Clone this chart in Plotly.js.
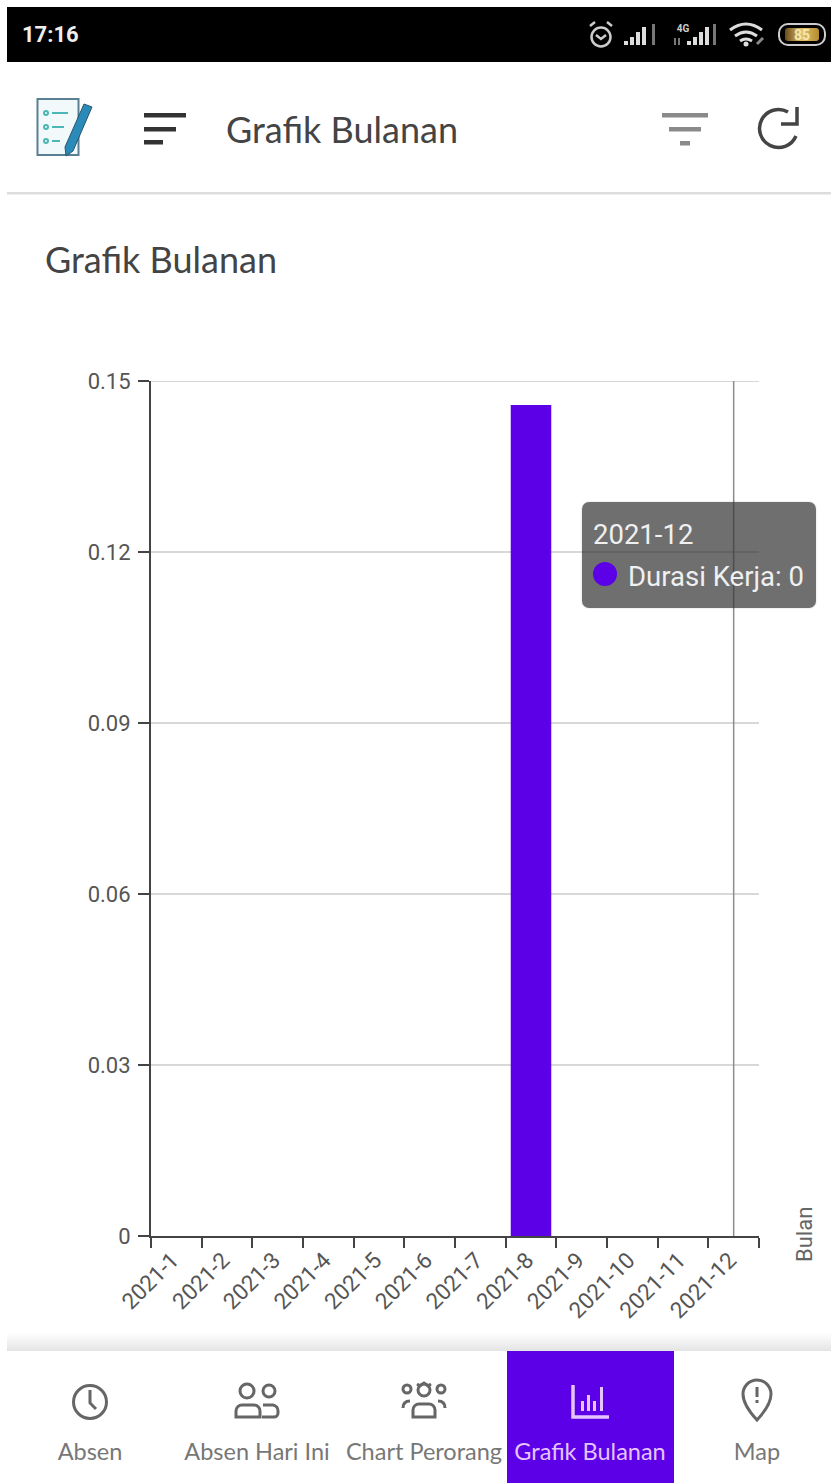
<!DOCTYPE html>
<html><head><meta charset="utf-8">
<script src="https://cdn.plot.ly/plotly-3.0.1.min.js"></script>
<style>
html,body{margin:0;padding:0;background:#fff;width:831px;height:1483px;overflow:hidden;font-family:Lato,sans-serif}
#chart{position:absolute;left:0;top:0;width:831px;height:1483px}
.a{position:absolute;white-space:nowrap}
svg.a{overflow:visible}
.nav{position:absolute;top:1451px;transform:translate(-50%,-50%);font-size:23.500px;color:#777;white-space:nowrap}
</style></head><body>
<div id="chart"></div>

<div class="a" style="left:7px;top:7px;width:824px;height:55px;background:#000"></div>
<div class="a" style="left:22px;top:34px;transform:translateY(-50%);font:bold 22px Roboto;color:#eee">17:16</div>
<svg class="a" style="left:0;top:0" width="831" height="70">
 <defs><linearGradient id="bat"><stop offset="0" stop-color="#6b4a1a"/><stop offset="0.5" stop-color="#e2c36a"/><stop offset="1" stop-color="#b58a30"/></linearGradient></defs>
 <g fill="none" stroke="#ccc" stroke-width="2.500">
  <circle cx="601" cy="37" r="9.500"/><path d="M596 35l5 4 5-4M590 26l5-4M612 26l-5-4"/>
 </g>
 <g fill="#ddd">
  <rect x="624" y="41" width="4" height="4"/><rect x="630" y="37" width="4" height="8"/><rect x="636" y="32" width="4" height="13"/><rect x="642" y="27" width="4" height="18"/>
  <rect x="652" y="24" width="3" height="21" fill="#777"/>
  <rect x="687" y="41" width="4" height="4"/><rect x="693" y="37" width="4" height="8"/><rect x="699" y="32" width="4" height="13"/><rect x="705" y="27" width="4" height="18"/>
  <rect x="713" y="24" width="3" height="21" fill="#777"/>
  <rect x="674" y="38" width="2" height="7" fill="#777"/><rect x="678" y="38" width="2" height="7" fill="#777"/>
 </g>
 <text x="683" y="32" text-anchor="middle" font-family="Roboto" font-weight="bold" font-size="10" fill="#ccc">4G</text>
 <g fill="none" stroke="#ddd" stroke-width="3">
  <path d="M730 30q16-12 32 0M735 36q11-8 22 0M740 41q6-4 12 0"/>
 </g>
 <circle cx="746" cy="44" r="2.500" fill="#ddd"/>
 <path d="M757 44l6-6" stroke="#888" stroke-width="3"/>
 <rect x="779" y="24" width="46" height="21" rx="9" fill="#000" stroke="#ccc" stroke-width="2"/>
 <rect x="785" y="28" width="34" height="13" rx="3" fill="url(#bat)"/>
 <text x="802" y="40" text-anchor="middle" font-family="Roboto" font-weight="bold" font-size="14" fill="#f6e6b0">85</text>
</svg>

<svg class="a" style="left:0;top:90px" width="831" height="110">
 <rect x="37.500" y="9" width="41" height="56" fill="#f2f9fb" stroke="#5a7f92" stroke-width="2"/>
 <g fill="none" stroke="#4cb7b5" stroke-width="2">
  <circle cx="46" cy="23" r="2"/><circle cx="46" cy="37" r="2"/><circle cx="46" cy="51" r="2"/>
  <path d="M52 23h16M52 37h12M52 51h8"/>
 </g>
 <path d="M84 14l8 3-19 44-7 5-1-9z" fill="#2a8ab8" stroke="#27566e" stroke-width="1"/>
 <g fill="#333">
  <rect x="144" y="23" width="42" height="4.500"/><rect x="144" y="37" width="32" height="4.500"/><rect x="144" y="50" width="19" height="4.500"/>
 </g>
 <g fill="#8a8a8a">
  <rect x="662" y="23" width="46" height="4.500"/><rect x="669" y="37" width="32" height="4.500"/><rect x="680" y="51" width="10" height="4.500"/>
 </g>
 <path d="M788 22a19 19 0 1 0 8 24" fill="none" stroke="#444" stroke-width="3.500"/>
 <path d="M797 17v17h-16" fill="none" stroke="#444" stroke-width="3.500"/>
 <rect x="7" y="102" width="824" height="2.500" fill="#ddd"/>
</svg>
<div class="a" style="left:226px;top:129px;transform:translateY(-50%);font-size:36px;color:#444">Grafik Bulanan</div>

<div class="a" style="left:582px;top:502px;width:234px;height:106px;border-radius:7px;background:rgba(50,50,50,.7);box-shadow:0 0 2px rgba(0,0,0,.2)"></div>
<div class="a" style="left:593px;top:534px;transform:translateY(-50%);font:27.500px Roboto;color:#f0f0f0">2021-12</div>
<div class="a" style="left:593px;top:562px;width:24px;height:24px;border-radius:50%;background:#5c00e8"></div>
<div class="a" style="left:628px;top:576px;transform:translateY(-50%);font:27.500px Roboto;color:#f0f0f0">Durasi Kerja: 0</div>

<div class="a" style="left:7px;top:1333px;width:824px;height:18px;background:linear-gradient(#fff,#e4e4e4)"></div>
<div class="a" style="left:7px;top:1351px;width:824px;height:132px;background:#fff"></div>
<div class="a" style="left:507px;top:1351px;width:167px;height:132px;background:#5c00e8"></div>
<svg class="a" style="left:0;top:1351px" width="831" height="132">
 <g fill="none" stroke="#666" stroke-width="3">
  <circle cx="90" cy="51" r="16.500"/><path d="M90 39v13l6 6"/>
  <circle cx="247" cy="40" r="7"/><circle cx="269" cy="40" r="6"/>
  <path d="M236 66v-6a6 6 0 0 1 6-6h12a6 6 0 0 1 6 6v6z"/><path d="M263 54h10a6 6 0 0 1 5 6v2a4 4 0 0 1-4 4h-12"/>
  <circle cx="424" cy="39" r="6"/><circle cx="407" cy="38" r="4"/><circle cx="441" cy="38" r="4"/>
  <path d="M413 66v-7a6 6 0 0 1 6-6h10a6 6 0 0 1 6 6v7z"/><path d="M403 57q0-7 7-7M445 57q0-7-7-7M417 33l3 2 4-3 4 3 3-2"/>
  <path d="M757 69q-14-15-14-26a14 14 0 0 1 28 0q0 11-14 26z"/><path d="M757 36v10M757 49v3"/>
 </g>
 <g fill="none" stroke="#e6c4ff" stroke-width="3.500">
  <path d="M573 34v32h36"/>
 </g>
 <g fill="#e6c4ff">
  <rect x="581" y="50" width="3" height="10"/><rect x="587" y="44" width="3" height="16"/><rect x="593" y="50" width="3" height="10"/><rect x="600" y="36" width="3" height="24"/>
 </g>
</svg>
<div class="nav" style="left:90px">Absen</div>
<div class="nav" style="left:257px">Absen Hari Ini</div>
<div class="nav" style="left:424px">Chart Perorang</div>
<div class="nav" style="left:590px;color:#e6c4ff">Grafik Bulanan</div>
<div class="nav" style="left:757px">Map</div>

<script>
const chartTitle = "Grafik Bulanan";
const seriesName = "Durasi Kerja";
const xAxisName = "Bulan";
const months = ["2021-1","2021-2","2021-3","2021-4","2021-5","2021-6","2021-7","2021-8","2021-9","2021-10","2021-11","2021-12"];
const durasiKerja = [0,0,0,0,0,0,0,0.1458,0,0,0,0];
const yTicks = [0,0.03,0.06,0.09,0.12,0.15];
const yTickLabels = ["0","0.03","0.06","0.09","0.12","0.15"];
const hoverMonth = "2021-12";

Plotly.newPlot("chart",[{
  type:"bar",name:seriesName,x:months,y:durasiKerja,width:0.8,
  marker:{color:"#5c00e8",line:{width:0}},hoverinfo:"none"
}],{
  width:831,height:1483,
  margin:{l:151,r:72,t:381,b:247,pad:0},
  paper_bgcolor:"rgba(0,0,0,0)",plot_bgcolor:"rgba(0,0,0,0)",
  showlegend:false,bargap:0.2,
  title:{text:chartTitle,xref:"container",yref:"container",x:45/831,xanchor:"left",y:1-260/1483,yanchor:"middle",
         font:{family:"Lato",size:36,color:"#444"},pad:{t:0,b:0,l:0,r:0}},
  xaxis:{type:"category",categoryorder:"array",categoryarray:months,range:[-0.5,11.5],tickson:"boundaries",
    tickmode:"array",tickvals:months,ticktext:months,
    ticks:"outside",ticklen:10,tickwidth:2,tickcolor:"#444",showline:true,linecolor:"#444",linewidth:2,showgrid:false,zeroline:false,
    tickangle:-45,ticklabelshift:-4,tickfont:{family:"Roboto",size:22.5,color:"#555"},automargin:false},
  yaxis:{range:[0,0.15],tickmode:"array",tickvals:yTicks,ticktext:yTickLabels,
    ticks:"outside",ticklen:11,tickwidth:2,tickcolor:"#444",showline:true,linecolor:"#444",linewidth:2,
    showgrid:true,gridcolor:"#d8d8d8",gridwidth:2,zeroline:false,ticklabelstandoff:3,
    tickfont:{family:"Roboto",size:22,color:"#555"},automargin:false},
  shapes:[
    {type:"line",xref:"paper",yref:"y",x0:0,x1:1,y0:yTicks[yTicks.length-1],y1:yTicks[yTicks.length-1],line:{color:"#d8d8d8",width:2},layer:"below"},
    {type:"line",xref:"x",yref:"paper",x0:hoverMonth,x1:hoverMonth,y0:0,y1:1,line:{color:"#8c8c8c",width:1.5},layer:"above"}],
  annotations:[{text:xAxisName,xref:"paper",yref:"paper",x:(804-151)/608,y:(1236-1235)/855,xanchor:"center",yanchor:"middle",
    textangle:-90,showarrow:false,font:{family:"Roboto",size:22,color:"#666"}}]
},{displayModeBar:false,staticPlot:true});
</script>
</body></html>
